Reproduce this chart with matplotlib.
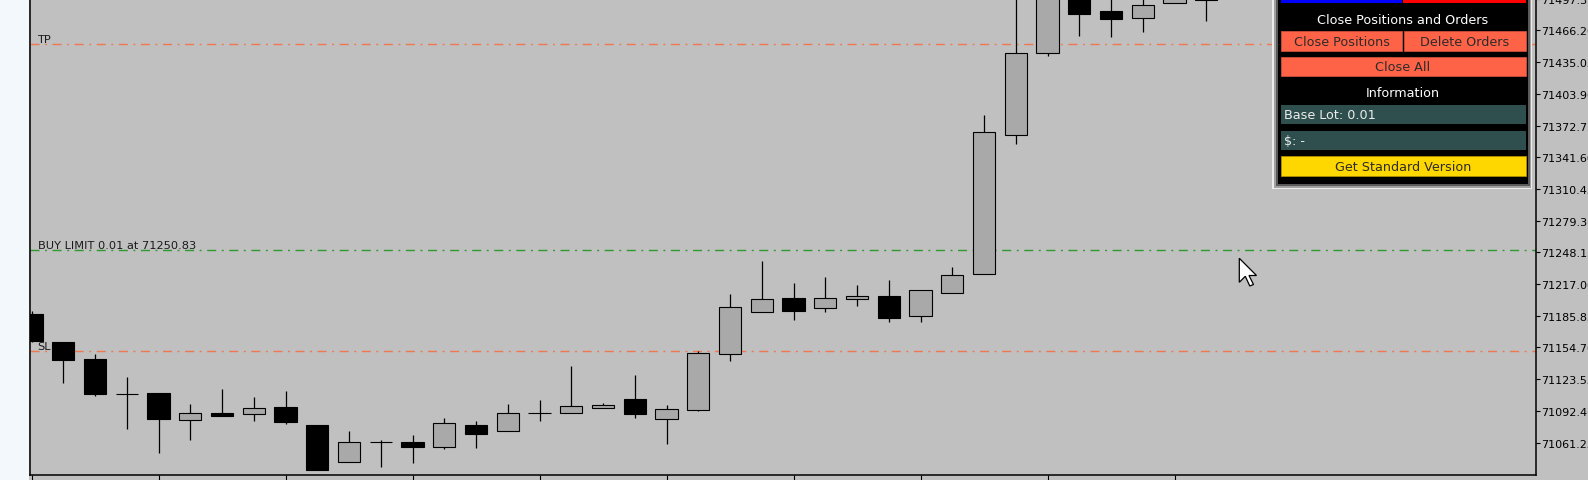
import numpy as np
import matplotlib
matplotlib.use("Agg")
import matplotlib.pyplot as plt
from matplotlib.patches import Rectangle, Polygon
from matplotlib.ticker import FixedLocator, FormatStrFormatter

# velas visibles (la primera queda cortada por el borde izquierdo)
opens = [71187.61, 71160.39, 71143.69, 71109.00, 71110.28, 71083.46, 71090.04, 71089.35,
         71095.74, 71078.84, 71041.89, 71061.54, 71061.54, 71057.22, 71078.84, 71072.65,
         71090.33, 71090.33, 71095.25, 71103.80, 71084.44, 71093.28, 71148.31, 71189.28,
         71203.33, 71193.21, 71202.05, 71205.30, 71185.35, 71207.95, 71226.62, 71363.20,
         71443.77, 71508.00, 71485.04, 71478.46, 71493.49, 71506.00]
highs = [71190.50, 71160.39, 71148.31, 71126.00, 71110.28, 71098.88, 71113.92, 71105.76,
         71111.46, 71078.84, 71072.35, 71064.10, 71068.42, 71085.13, 71082.18, 71099.18,
         71103.11, 71136.22, 71099.86, 71127.97, 71098.19, 71151.25, 71207.26, 71239.69,
         71217.78, 71223.97, 71216.11, 71221.02, 71210.90, 71233.79, 71383.15, 71512.00,
         71515.00, 71512.00, 71505.00, 71502.00, 71515.00, 71508.00]
lows = [71160.40, 71119.81, 71107.04, 71074.61, 71051.03, 71063.80, 71087.39, 71082.18,
        71079.52, 71034.62, 71041.89, 71037.57, 71041.50, 71054.96, 71055.94, 71072.65,
        71082.18, 71090.33, 71095.25, 71085.13, 71059.87, 71092.00, 71141.43, 71189.28,
        71182.01, 71189.87, 71195.18, 71180.04, 71179.45, 71207.95, 71226.62, 71354.65,
        71440.83, 71461.07, 71460.09, 71465.00, 71493.49, 71475.51]
closes = [71161.38, 71142.41, 71108.71, 71109.00, 71084.44, 71090.04, 71087.68, 71094.95,
          71081.20, 71034.62, 71061.54, 71061.54, 71057.22, 71080.21, 71069.70, 71090.04,
          71090.33, 71096.92, 71097.90, 71089.35, 71093.97, 71149.29, 71194.19, 71202.05,
          71190.85, 71203.04, 71205.00, 71183.39, 71210.90, 71225.64, 71366.15, 71443.77,
          71510.00, 71482.39, 71477.48, 71490.94, 71510.00, 71496.15]

# niveles de la orden pendiente
tp_level = 71452.5
buy_limit = 71250.83
sl_level = 71150.8
tp_label = "TP"
order_label = "BUY LIMIT 0.01 at 71250.83"
sl_label = "SL"

# escala de precios (derecha)
price_ticks = [71061.25, 71092.40, 71123.55, 71154.70, 71185.85, 71217.00, 71248.15,
               71279.30, 71310.45, 71341.60, 71372.75, 71403.90, 71435.05, 71466.20,
               71497.35]

# textos del panel
panel_title = "Close Positions and Orders"
btn_close_pos = "Close Positions"
btn_delete = "Delete Orders"
btn_close_all = "Close All"
info_title = "Information"
info_lot = "Base Lot: 0.01"
info_money = "$: -"
btn_standard = "Get Standard Version"

W, H = 1588, 481
fig = plt.figure(figsize=(W / 100, H / 100), dpi=100, facecolor="#c0c0c0")

# franja clara a la izquierda del grafico
fig.patches.append(Rectangle((0, 0), 29 / W, 1, transform=fig.transFigure,
                             facecolor="#f3f8fc", edgecolor="none", zorder=0))

ax = fig.add_axes([30 / W, 5 / H, 1505.5 / W, 481 / H])
ax.set_facecolor("#c0c0c0")
ax.set_xlim(-0.05, 47.37)
ax.set_ylim(71029.4, 71502.0)

x = np.arange(len(opens))
o = np.array(opens)
c = np.array(closes)
ax.vlines(x, lows, highs, color="black", lw=0.9, zorder=3)
body_colors = ["#a9a9a9" if cc >= oo else "black" for oo, cc in zip(o, c)]
ax.bar(x, np.abs(c - o), bottom=np.minimum(o, c), width=0.7, color=body_colors,
       edgecolor="black", linewidth=0.8, zorder=4)

# lineas de TP / orden / SL
pattern = (6.5, 4, 1.4, 4)
ax.axhline(tp_level, color="#f07850", lw=1.0, dashes=pattern, zorder=2)
ax.axhline(buy_limit, color="#2f9a2f", lw=1.0, dashes=pattern, zorder=2)
ax.axhline(sl_level, color="#f07850", lw=1.0, dashes=pattern, zorder=2)
for lvl, txt in [(tp_level, tp_label), (buy_limit, order_label), (sl_level, sl_label)]:
    ax.text(0.005, lvl + 2.0, txt, transform=ax.get_yaxis_transform(), fontsize=8.2,
            color="#1a1a1a", va="baseline", ha="left", zorder=5)

ax.yaxis.tick_right()
ax.yaxis.set_major_locator(FixedLocator(price_ticks))
ax.yaxis.set_major_formatter(FormatStrFormatter("%.2f"))
ax.tick_params(axis="y", direction="out", length=3, width=0.8, pad=1,
               labelsize=8, colors="black")
ax.set_xticks(range(0, len(opens), 4))
ax.tick_params(axis="x", direction="out", length=4, width=0.8, labelbottom=False)
for s in ["left", "right", "bottom"]:
    ax.spines[s].set_color("black")
    ax.spines[s].set_linewidth(1.1)
ax.spines["top"].set_visible(False)

# panel del EA, en coordenadas de pixel
ov = fig.add_axes([0, 0, 1, 1])
ov.set_xlim(0, W)
ov.set_ylim(H, 0)
ov.axis("off")
ov.patch.set_alpha(0)


def caja(x0, y0, x1, y1, color, edge="none"):
    ov.add_patch(Rectangle((x0, y0), x1 - x0, y1 - y0, facecolor=color,
                           edgecolor=edge, linewidth=0.6))


caja(1272, -5, 1532, 190, "#ececec")
caja(1274, -5, 1530.5, 188.5, "#a0a0a0")
caja(1276, -5, 1529.5, 186.5, "#5a5a5a")
caja(1278, -5, 1528.3, 184.7, "black")

caja(1281, -5, 1401.7, 4, "#0000ff")
caja(1403, -5, 1525.5, 4, "#ff0000")
caja(1281, 32.3, 1402, 51.7, "#ff6347", "#c8503a")
caja(1403.5, 32.3, 1525.5, 51.7, "#ff6347", "#c8503a")
caja(1281, 58.3, 1525.5, 77.3, "#ff6347", "#c8503a")
caja(1281, 106, 1525.5, 125.3, "#2f4f4f")
caja(1281, 131.7, 1525.5, 151, "#2f4f4f")
caja(1281, 157.3, 1525.5, 177.3, "#ffd700", "#b09000")

fs = 9.2
ov.text(1403, 21, panel_title, color="white", fontsize=fs, ha="center", va="center")
ov.text(1341.5, 42, btn_close_pos, color="#2b2b2b", fontsize=fs, ha="center", va="center")
ov.text(1464.5, 42, btn_delete, color="#2b2b2b", fontsize=fs, ha="center", va="center")
ov.text(1403, 67.8, btn_close_all, color="#2b2b2b", fontsize=fs, ha="center", va="center")
ov.text(1403, 93.5, info_title, color="white", fontsize=fs, ha="center", va="center")
ov.text(1284, 115.7, info_lot, color="#ececec", fontsize=fs, ha="left", va="center")
ov.text(1284, 141.3, info_money, color="#ececec", fontsize=fs, ha="left", va="center")
ov.text(1403, 167.3, btn_standard, color="#2b2b2b", fontsize=fs, ha="center", va="center")

# puntero del raton
tip = np.array([1239.3, 259.3])
arrow = np.array([(0, 0), (0, 24), (6, 18), (10.5, 27.7), (14.2, 26.2), (9.7, 17.2), (17.2, 17.2)])
ov.add_patch(Polygon(arrow + tip, closed=True, facecolor="white", edgecolor="black", linewidth=0.9))

fig.savefig("out.png", dpi=100, facecolor=fig.get_facecolor())
